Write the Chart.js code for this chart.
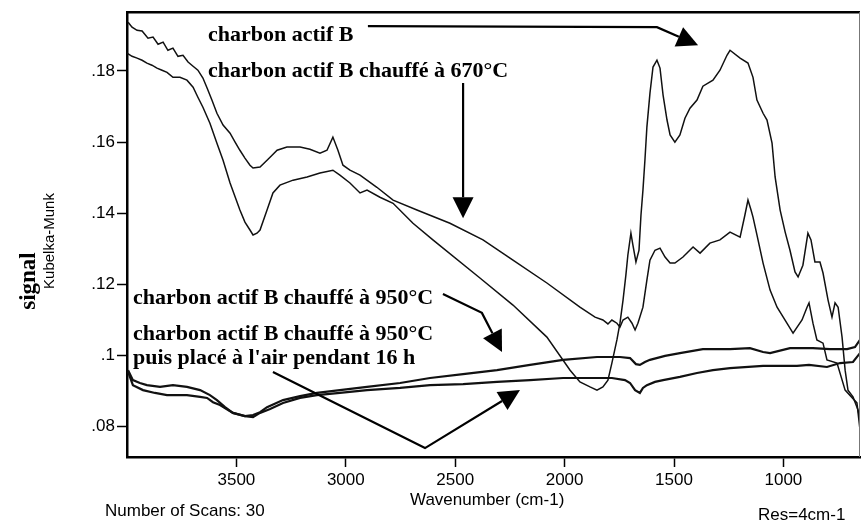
<!DOCTYPE html>
<html>
<head>
<meta charset="utf-8">
<script src="https://cdn.jsdelivr.net/npm/chart.js@4.4.1/dist/chart.umd.min.js"></script>
<style>
  html, body { margin: 0; padding: 0; background: #fff; }
</style>
</head>
<body>
<canvas id="spectrum" width="861" height="526"></canvas>
<script>
// wavenumber (cm-1) / Kubelka-Munk signal

// charbon actif B
const wnB = [4000,3977,3954,3931,3909,3886,3863,3840,3817,3790,3758,3726,3698,3676,3653,3621,3589,3561,3529,3484,3461,3438,3424,3406,3392,3360,3333,3301,3241,3177,3118,3059,3027,2981,2935,2903,2844,2784,2693,2602,2387,2236,2081,1975,1930,1884,1852,1825,1802,1784,1761,1747,1733,1720,1711,1697,1688,1674,1660,1651,1642,1633,1624,1610,1596,1578,1564,1550,1532,1518,1496,1473,1450,1427,1395,1368,1322,1290,1258,1244,1198,1162,1139,1121,1093,1075,1052,1038,1015,992,970,947,933,911,888,874,856,833,819,796,778,764,750,732,718,705,682,659,650];
const sigB = [0.1850,0.1841,0.1836,0.1830,0.1822,0.1816,0.1808,0.1802,0.1796,0.1782,0.1782,0.1774,0.1754,0.1726,0.1698,0.1653,0.1597,0.1549,0.1485,0.1409,0.1375,0.1353,0.1339,0.1344,0.1353,0.1409,0.1457,0.1479,0.1493,0.1502,0.1513,0.1521,0.1507,0.1485,0.1457,0.1465,0.1445,0.1428,0.1372,0.1325,0.1218,0.1142,0.1052,0.0959,0.0926,0.0912,0.0903,0.0912,0.0931,0.0979,0.1044,0.1091,0.1156,0.1226,0.1282,0.1344,0.1311,0.1263,0.1296,0.1395,0.1465,0.1549,0.1642,0.1737,0.1811,0.1830,0.1808,0.1732,0.1662,0.1620,0.1600,0.1620,0.1667,0.1695,0.1718,0.1757,0.1774,0.1802,0.1844,0.1858,0.1836,0.1822,0.1782,0.1718,0.1681,0.1662,0.1597,0.1502,0.1409,0.1347,0.1296,0.1235,0.1221,0.1254,0.1344,0.1325,0.1263,0.1263,0.1232,0.1156,0.1108,0.1148,0.1136,0.1052,0.0959,0.0903,0.0884,0.0847,0.0819];

// chauffé à 670°C
const wn670 = [3995,3977,3954,3931,3904,3881,3858,3835,3813,3790,3767,3744,3721,3698,3676,3653,3634,3612,3589,3561,3529,3506,3484,3461,3438,3424,3392,3360,3337,3314,3269,3209,3164,3118,3086,3059,3036,3013,2981,2935,2858,2784,2675,2524,2373,2236,2081,1930,1861,1825,1802,1784,1761,1747,1733,1711,1692,1678,1665,1642,1624,1610,1587,1564,1541,1518,1496,1459,1413,1381,1336,1290,1244,1198,1176,1162,1148,1139,1121,1093,1061,1029,984,956,915,892,883,865,847,819,801,755,718,664,650];
const sig670 = [0.1937,0.1923,0.1914,0.1912,0.1892,0.1895,0.1875,0.1881,0.1858,0.1864,0.1841,0.1844,0.1825,0.1813,0.1802,0.1780,0.1752,0.1718,0.1681,0.1648,0.1625,0.1600,0.1577,0.1555,0.1535,0.1527,0.1530,0.1549,0.1563,0.1577,0.1586,0.1586,0.1580,0.1569,0.1577,0.1614,0.1577,0.1535,0.1521,0.1507,0.1473,0.1437,0.1409,0.1372,0.1325,0.1268,0.1204,0.1136,0.1108,0.1100,0.1089,0.1100,0.1091,0.1080,0.1100,0.1108,0.1091,0.1072,0.1091,0.1136,0.1212,0.1268,0.1296,0.1302,0.1277,0.1260,0.1260,0.1277,0.1305,0.1288,0.1316,0.1325,0.1347,0.1333,0.1395,0.1437,0.1409,0.1389,0.1339,0.1260,0.1184,0.1136,0.1091,0.1063,0.1100,0.1136,0.1148,0.1091,0.1044,0.1035,0.0988,0.0979,0.0903,0.0867,0.0791];

// chauffé à 950°C
const wn950 = [3995,3973,3941,3909,3849,3790,3726,3666,3621,3589,3552,3516,3461,3424,3392,3360,3287,3209,3132,3027,2903,2752,2615,2464,2309,2158,2007,1852,1747,1701,1674,1656,1633,1610,1541,1473,1368,1244,1153,1093,1061,970,865,787,709,673,650];
const sig950 = [0.0959,0.0931,0.0923,0.0917,0.0912,0.0917,0.0912,0.0903,0.0889,0.0875,0.0855,0.0839,0.0830,0.0833,0.0841,0.0855,0.0875,0.0886,0.0895,0.0903,0.0912,0.0923,0.0937,0.0948,0.0959,0.0974,0.0988,0.0996,0.0996,0.0993,0.0976,0.0974,0.0982,0.0988,0.0999,0.1007,0.1018,0.1018,0.1021,0.1010,0.1007,0.1021,0.1021,0.1018,0.1018,0.1024,0.1044];

// chauffé à 950°C puis placé à l'air 16 h
const wnAir = [3995,3973,3927,3872,3817,3726,3666,3634,3607,3575,3516,3461,3424,3392,3346,3287,3209,3132,3027,2903,2752,2615,2464,2309,2158,2007,1784,1724,1701,1678,1656,1642,1624,1587,1550,1473,1395,1322,1244,1093,938,883,801,741,682,650];
const sigAir = [0.0954,0.0917,0.0903,0.0895,0.0889,0.0889,0.0884,0.0881,0.0869,0.0861,0.0839,0.0830,0.0827,0.0839,0.0850,0.0867,0.0881,0.0889,0.0895,0.0903,0.0909,0.0917,0.0920,0.0926,0.0931,0.0937,0.0937,0.0931,0.0923,0.0903,0.0895,0.0909,0.0917,0.0926,0.0931,0.0940,0.0951,0.0959,0.0965,0.0971,0.0971,0.0974,0.0968,0.0979,0.0982,0.1007];

const xTicks = [3500, 3000, 2500, 2000, 1500, 1000];
const yTicks = [0.08, 0.10, 0.12, 0.14, 0.16, 0.18];

// labels written inside the plot, anchored in data units (left end, baseline)
const noteText = [
  "charbon actif B",
  "charbon actif B chauffé à 670°C",
  "charbon actif B chauffé à 950°C",
  "charbon actif B chauffé à 950°C",
  "puis placé à l'air pendant 16 h"
];
const noteWn = [3630, 3630, 3973, 3973, 3973];
const noteSig = [0.1884, 0.1782, 0.1145, 0.1044, 0.0976];

// arrows from the labels to their curves, also in data units (last point = tip)
const arrowPaths = [
  [[2899, 0.1926], [1578, 0.1923], [1390, 0.1872]],
  [[2464, 0.1766], [2464, 0.1386]],
  [[2556, 0.1173], [2378, 0.1120], [2286, 0.1010]],
  [[3333, 0.0954], [2638, 0.0740], [2204, 0.0903]]
];

const pts = (xs, ys) => xs.map((v, i) => ({ x: v, y: ys[i] }));

const serif = '"Liberation Serif", "Times New Roman", serif';
const sans = '"Liberation Sans", Arial, sans-serif';

const overlay = {
  id: 'overlay',
  afterDraw(chart) {
    const { ctx, chartArea: a, scales: { x, y } } = chart;
    ctx.save();

    // top and right edges of the frame
    ctx.strokeStyle = '#000';
    ctx.lineWidth = 2.5;
    ctx.beginPath();
    ctx.moveTo(a.left, a.top);
    ctx.lineTo(a.right, a.top);
    ctx.stroke();
    ctx.strokeStyle = '#777';
    ctx.lineWidth = 1;
    ctx.beginPath();
    ctx.moveTo(a.right - 0.5, a.top);
    ctx.lineTo(a.right - 0.5, a.bottom);
    ctx.stroke();

    // notes
    ctx.fillStyle = '#000';
    ctx.font = 'bold 22px ' + serif;
    ctx.textAlign = 'left';
    ctx.textBaseline = 'alphabetic';
    noteText.forEach((t, i) => {
      ctx.fillText(t, x.getPixelForValue(noteWn[i]), y.getPixelForValue(noteSig[i]));
    });

    // arrows
    ctx.strokeStyle = '#000';
    ctx.lineWidth = 2.2;
    arrowPaths.forEach(path => {
      const p = path.map(([w, s]) => [x.getPixelForValue(w), y.getPixelForValue(s)]);
      const n = p.length;
      const [tx, ty] = p[n - 1];
      const [px, py] = p[n - 2];
      const len = Math.hypot(tx - px, ty - py);
      const ux = (tx - px) / len, uy = (ty - py) / len;
      const bx = tx - ux * 21, by = ty - uy * 21;
      ctx.beginPath();
      ctx.moveTo(p[0][0], p[0][1]);
      for (let i = 1; i < n - 1; i++) ctx.lineTo(p[i][0], p[i][1]);
      ctx.lineTo(bx, by);
      ctx.stroke();
      ctx.beginPath();
      ctx.moveTo(tx, ty);
      ctx.lineTo(bx - uy * 10.5, by + ux * 10.5);
      ctx.lineTo(bx + uy * 10.5, by - ux * 10.5);
      ctx.closePath();
      ctx.fill();
    });

    // axis titles and footer
    ctx.textAlign = 'center';
    ctx.textBaseline = 'middle';
    ctx.save();
    ctx.translate(29, 281);
    ctx.rotate(-Math.PI / 2);
    ctx.font = 'bold 23px ' + serif;
    ctx.fillText('signal', 0, 0);
    ctx.restore();
    ctx.save();
    ctx.translate(50, 241);
    ctx.rotate(-Math.PI / 2);
    ctx.font = '15px ' + sans;
    ctx.fillText('Kubelka-Munk', 0, 0);
    ctx.restore();

    ctx.font = '17px ' + sans;
    ctx.textAlign = 'left';
    ctx.textBaseline = 'alphabetic';
    ctx.fillText('Wavenumber (cm-1)', 410, 505);
    ctx.fillText('Number of Scans: 30', 105, 516);
    ctx.fillText('Res=4cm-1', 758, 520);
    ctx.restore();
  }
};

const line = (xs, ys, w) => ({
  data: pts(xs, ys),
  borderColor: '#111',
  borderWidth: w,
  pointRadius: 0,
  tension: 0,
  fill: false
});

new Chart(document.getElementById('spectrum'), {
  type: 'line',
  data: {
    datasets: [
      line(wnB, sigB, 1.5),
      line(wn670, sig670, 1.5),
      line(wn950, sig950, 2.2),
      line(wnAir, sigAir, 2.2)
    ]
  },
  options: {
    responsive: false,
    animation: false,
    layout: { padding: { top: 12, right: 1, left: 0, bottom: 0 } },
    plugins: { legend: { display: false }, tooltip: { enabled: false } },
    scales: {
      x: {
        type: 'linear',
        reverse: true,
        min: 650,
        max: 4000,
        afterBuildTicks: s => { s.ticks = xTicks.map(v => ({ value: v })); },
        afterFit: s => { s.height = 69; },
        border: { color: '#000', width: 2.5 },
        grid: { drawOnChartArea: false, drawTicks: true, tickLength: 10, tickColor: '#000', tickWidth: 1.5 },
        ticks: {
          color: '#000',
          font: { family: sans, size: 17 },
          padding: 3,
          maxRotation: 0,
          autoSkip: false,
          callback: v => String(v)
        }
      },
      y: {
        type: 'linear',
        min: 0.0715,
        max: 0.1965,
        afterBuildTicks: s => { s.ticks = yTicks.map(v => ({ value: v })); },
        afterFit: s => { s.width = 127; },
        border: { color: '#000', width: 2.5 },
        grid: { drawOnChartArea: false, drawTicks: true, tickLength: 10, tickColor: '#000', tickWidth: 1.5 },
        ticks: {
          color: '#000',
          font: { family: sans, size: 17 },
          padding: 2,
          callback: v => String(+v.toFixed(2)).replace(/^0/, '')
        }
      }
    }
  },
  plugins: [overlay]
});
</script>
</body>
</html>
